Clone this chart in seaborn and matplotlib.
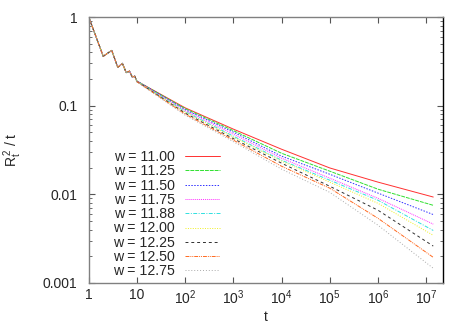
import numpy as np
import pandas as pd
import matplotlib
matplotlib.use("Agg")
import matplotlib.pyplot as plt
import matplotlib.ticker as mticker
import seaborn as sns

# shared early part of every curve (t = 1..9)
t_early = [1, 2, 3, 4, 5, 6, 7, 8, 9]
r_early = [1.0, 0.36, 0.42, 0.27, 0.30, 0.235, 0.245, 0.21, 0.215]

# per-series values from t = 10 on
t_late = [10, 1e2, 1e3, 1e4, 1e5, 1e6, 1.4e7]
w_labels = ["11.00", "11.25", "11.50", "11.75", "11.88", "12.00", "12.25", "12.50", "12.75"]
r_w1100 = [0.189, 0.0944, 0.0543, 0.0322, 0.0198, 0.0137, 0.0093]
r_w1125 = [0.189, 0.0925, 0.0522, 0.0290, 0.0182, 0.0114, 0.0075]
r_w1150 = [0.189, 0.0901, 0.0502, 0.0269, 0.0168, 0.0103, 0.0059]
r_w1175 = [0.189, 0.0878, 0.0477, 0.0255, 0.0152, 0.0090, 0.0046]
r_w1188 = [0.188, 0.0856, 0.0452, 0.0242, 0.0144, 0.00855, 0.0039]
r_w1200 = [0.187, 0.0845, 0.0441, 0.0236, 0.0137, 0.0079, 0.00344]
r_w1225 = [0.187, 0.0823, 0.0424, 0.0224, 0.0123, 0.0066, 0.0026]
r_w1250 = [0.186, 0.0802, 0.0408, 0.0207, 0.0117, 0.00535, 0.00194]
r_w1275 = [0.185, 0.0781, 0.0392, 0.0192, 0.0105, 0.00447, 0.00146]
series = [r_w1100, r_w1125, r_w1150, r_w1175, r_w1188, r_w1200, r_w1225, r_w1250, r_w1275]

colors = ["#ff3030", "#30e030", "#3030ff", "#ff30ff", "#30e0e0",
          "#f0f020", "#303030", "#ff6a20", "#aaaaaa"]
dashes = ["", (4, 1), (1.5, 1.5), (1, 1), (4, 1.5, 1, 1.5), (1, 1.5),
          (3, 3), (4, 1, 1, 1, 1, 1), (1, 2)]

rows = []
for lab, vals in zip(w_labels, series):
    name = "w = " + lab
    for t, r in zip(t_early + t_late, r_early + vals):
        rows.append({"t": t, "r": r, "w": name})
df = pd.DataFrame(rows)
names = ["w = " + l for l in w_labels]

sns.set_style("ticks")
plt.rcParams["font.family"] = ["Liberation Sans", "DejaVu Sans"]
plt.rcParams["mathtext.fontset"] = "custom"
plt.rcParams["mathtext.rm"] = "Liberation Sans"
plt.rcParams["mathtext.it"] = "Liberation Sans"

fig = plt.figure(figsize=(4.67, 3.27), dpi=100)
ax = fig.add_axes([0.19, 0.135, 0.759, 0.813])

sns.lineplot(data=df, x="t", y="r", hue="w", style="w", hue_order=names,
             style_order=names, palette=colors, dashes=dashes,
             linewidth=0.7, ax=ax, legend=False, estimator=None, sort=False)

ax.set_xscale("log")
ax.set_yscale("log")
ax.set_xlim(1, 2.25e7)
ax.set_ylim(0.001, 1)

xt = [1, 10] + [10 ** k for k in range(2, 8)]
ax.set_xticks(xt)
ax.set_xticklabels(["1", "10"] + [r"$10^{%d}$" % k for k in range(2, 8)])
ax.xaxis.set_minor_locator(mticker.NullLocator())
ax.set_yticks([0.001, 0.01, 0.1, 1])
ax.set_yticklabels(["0.001", "0.01", "0.1", "1"])
ax.yaxis.set_minor_locator(mticker.LogLocator(base=10, subs=np.arange(2, 10), numticks=20))
ax.yaxis.set_minor_formatter(mticker.NullFormatter())

ax.tick_params(which="both", direction="in", top=True, right=True, labelsize=10,
               color="#555555")
ax.tick_params(which="major", length=4)
ax.tick_params(axis="x", which="major", pad=4)
ax.tick_params(axis="y", which="major", pad=8)
ax.tick_params(which="minor", length=2)

for s in ["left", "bottom", "top"]:
    ax.spines[s].set_color("#808080")
ax.spines["right"].set_color("black")
for s in ax.spines.values():
    s.set_linewidth(1.0)

ax.set_xlabel("t", fontsize=10, labelpad=2)
ax.set_ylabel(r"$\mathregular{R_t^{\,2}}$ / t", fontsize=10, labelpad=14)

handles = [plt.Line2D([], [], color=c, lw=0.7,
                      linestyle="-" if d == "" else (0, d))
           for c, d in zip(colors, dashes)]
ax.legend(handles, names, loc="lower left", bbox_to_anchor=(0.045, -0.015),
          frameon=False, markerfirst=False, fontsize=10.2, handlelength=2.5,
          labelspacing=0.02, handletextpad=0.7, borderaxespad=0.2)

fig.savefig("out.png", dpi=100)
